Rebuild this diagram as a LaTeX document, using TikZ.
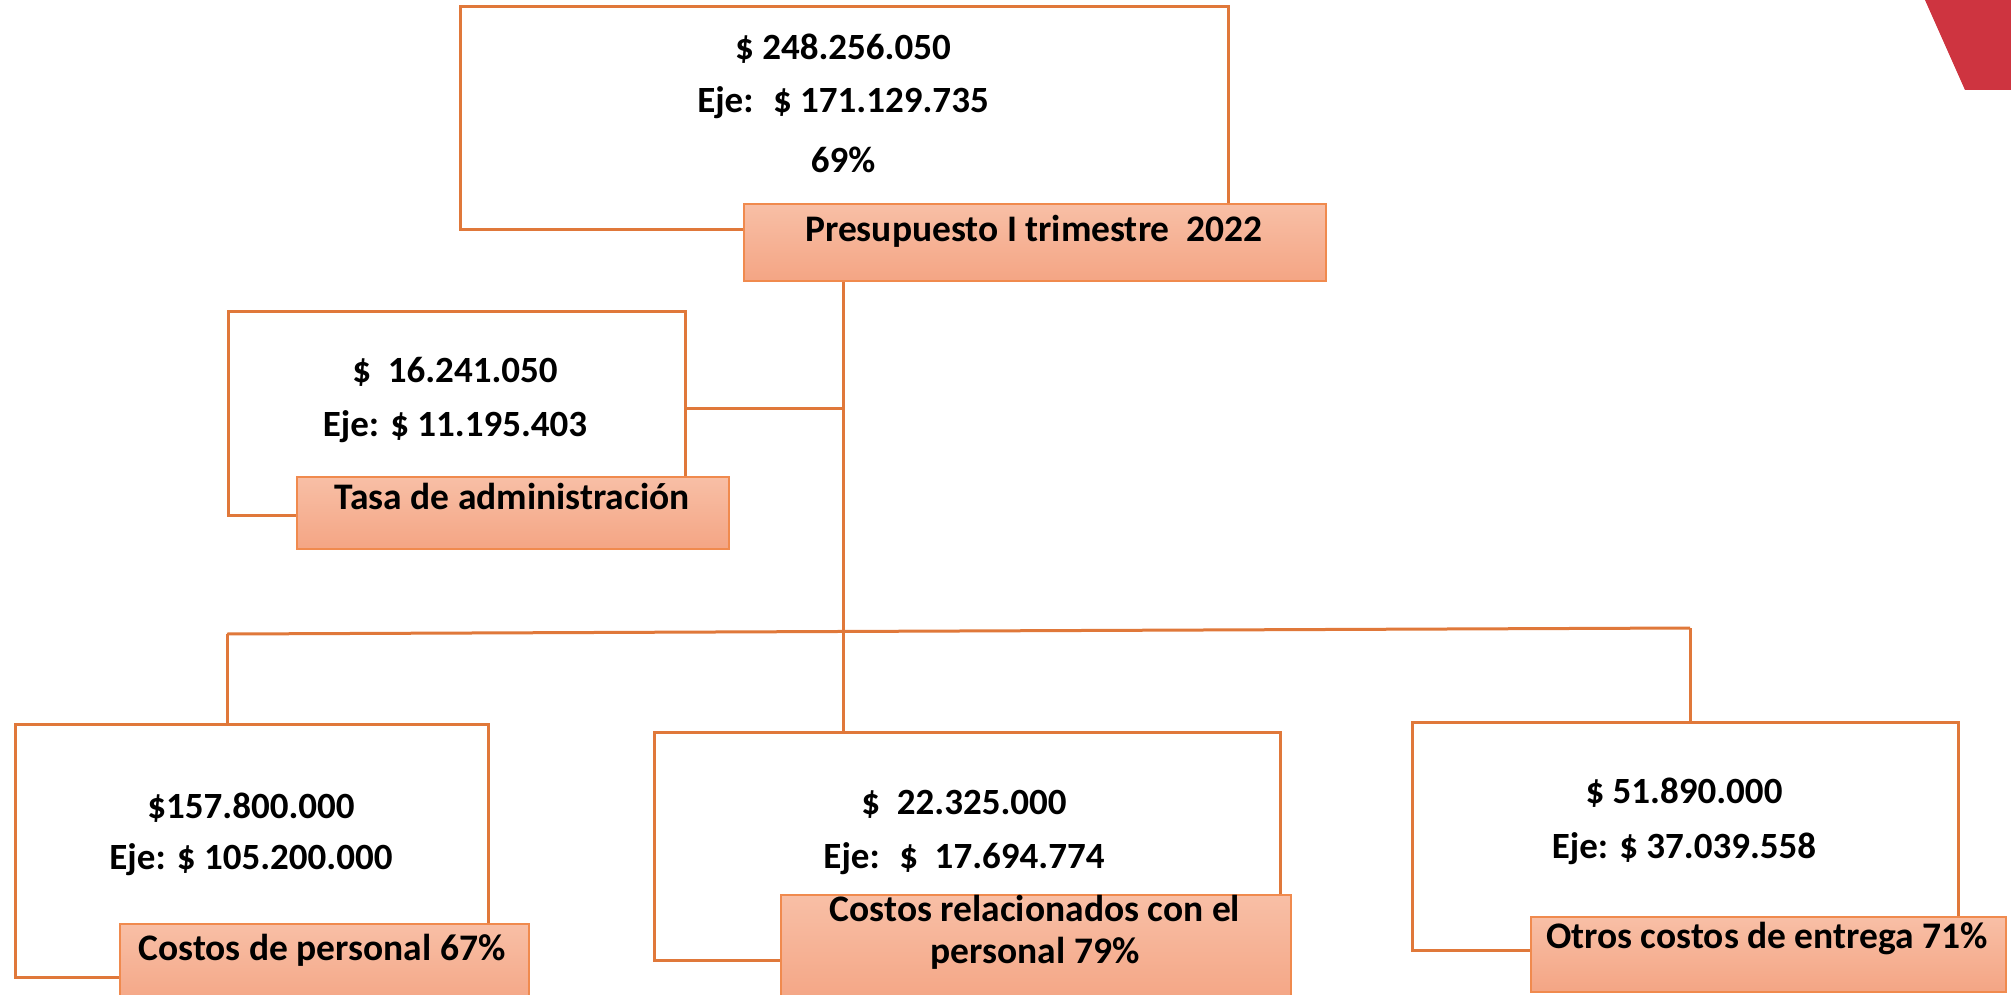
\documentclass[tikz,border=0pt]{standalone}
\usepackage{fontspec}
\setmainfont{Carlito}
\definecolor{lineor}{HTML}{E0783A}
\definecolor{labor}{HTML}{F08A4E}
\definecolor{labtop}{HTML}{F8BFA6}
\definecolor{labbot}{HTML}{F4A584}
\definecolor{redc}{HTML}{CE3440}
\begin{document}
\begin{tikzpicture}[x=1pt,y=-1pt,
  box/.style={draw=lineor, line width=3pt, fill=white, inner sep=0pt, anchor=north west},
  lab/.style={draw=labor, line width=1.6pt, top color=labtop, bottom color=labbot, inner sep=0pt, anchor=north west},
  conn/.style={draw=lineor, line width=3pt},
  txt/.style={font=\fontsize{37}{44}\selectfont\bfseries, inner sep=0pt},
  ltxt/.style={font=\fontsize{37.5}{42}\selectfont\bfseries, inner sep=0pt, align=center}]
\clip (0,0) rectangle (2011,995);
\fill[white] (0,0) rectangle (2011,995);
% red corner shape
\fill[redc] (1925,0) -- (2011,0) -- (2011,90) -- (1965,90) -- cycle;
% junction coordinates
\coordinate (j1) at (843,408);
\coordinate (busL) at (227,634);
\coordinate (busR) at (1690,628);
% boxes
\node[box, minimum width=768pt, minimum height=223pt] (top) at (459,5) {};
\node[box, minimum width=457pt, minimum height=204pt] (tasa) at (227,310) {};
\node[box, minimum width=473pt, minimum height=253pt] (b1) at (14,723) {};
\node[box, minimum width=626pt, minimum height=228pt] (b2) at (653,731) {};
\node[box, minimum width=546pt, minimum height=228pt] (b3) at (1411,721) {};
% labels
\node[lab, minimum width=582pt, minimum height=77pt] (pres) at (743,203) {};
\node[lab, minimum width=432pt, minimum height=72pt] (tasalab) at (296,476) {};
\node[lab, minimum width=409pt, minimum height=84pt] (l1) at (119,923) {};
\node[lab, minimum width=510pt, minimum height=110pt] (l2) at (780,894) {};
\node[lab, minimum width=475pt, minimum height=75pt] (l3) at (1530,916) {};
% connectors
\draw[conn] (pres.south -| j1) -- (b2.north -| j1);
\draw[conn] (tasa.east |- j1) -- (j1);
\draw[conn] (busL) -- (busR);
\draw[conn] (busL) -- (b1.north -| busL);
\draw[conn] (busR) -- (b3.north -| busR);
% texts
\node[txt] (t1) at (843,49) {\$ 248.256.050};
\node[txt] (t2) at (843,103) {Eje:~ \$ 171.129.735};
\node[txt] (t3) at (843,160) {69\%};
\node[ltxt] (pt) at (1034,231) {Presupuesto I trimestre~ 2022};
\node[txt] (ta1) at (455,372) {\$~ 16.241.050};
\node[txt] (ta2) at (455,427) {Eje: \$ 11.195.403};
\node[ltxt] (tat) at (512,496) {Tasa de administración};
\node[txt] (c1a) at (251,808) {\$157.800.000};
\node[txt] (c1b) at (251,860) {Eje: \$ 105.200.000};
\node[ltxt] (c1l) at (322,950) {Costos de personal 67\%};
\node[txt] (c2a) at (964,804) {\$~ 22.325.000};
\node[txt] (c2b) at (964,859) {Eje:~ \$~ 17.694.774};
\node[ltxt] (c2l) at (1035,932) {Costos relacionados con el\\personal 79\%};
\node[txt] (c3a) at (1684,793) {\$ 51.890.000};
\node[txt] (c3b) at (1684,849) {Eje: \$ 37.039.558};
\node[ltxt] (c3l) at (1767,939) {Otros costos de entrega 71\%};
\end{tikzpicture}
\end{document}
